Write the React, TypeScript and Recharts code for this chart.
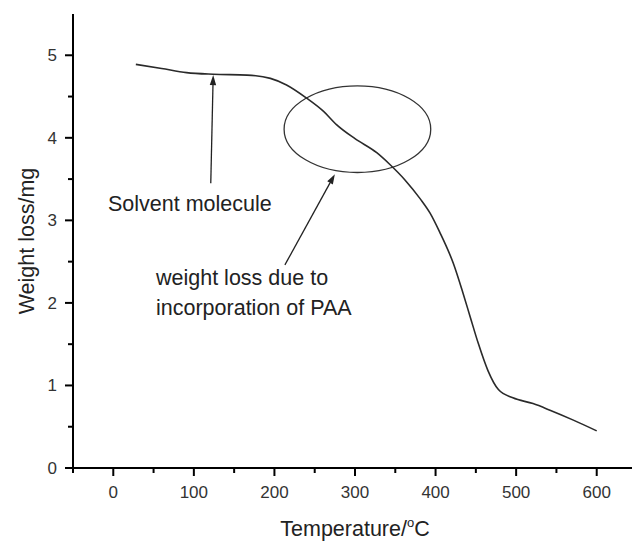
import React from "react"
import { LineChart, Line, XAxis, YAxis, Label, ReferenceArea, ReferenceLine } from "recharts"

// TGA curve
const temperature = [28, 60, 91, 124, 166, 195, 215, 240, 261, 277, 300, 327, 343, 362, 381, 393, 405, 422, 434, 443, 453, 465, 478, 496, 521, 542, 571, 600]
const weightLoss = [4.89, 4.84, 4.79, 4.77, 4.76, 4.72, 4.64, 4.48, 4.32, 4.16, 3.99, 3.82, 3.68, 3.49, 3.26, 3.09, 2.86, 2.48, 2.12, 1.83, 1.51, 1.18, 0.95, 0.85, 0.78, 0.7, 0.58, 0.45]

// ticks (majors get labels, the rest are minor marks)
const xTicks = [-50, 0, 50, 100, 150, 200, 250, 300, 350, 400, 450, 500, 550, 600, 650]
const yTicks = [0, 0.5, 1, 1.5, 2, 2.5, 3, 3.5, 4, 4.5, 5]

const FONT = "'Liberation Sans', Arial, sans-serif"
const INK = "#222"

const data = temperature.map((t, i) => ({ t, w: weightLoss[i] }))

function XTick({ x, y, payload }: any) {
  const major = payload.value % 100 === 0
  return (
    <g>
      <line x1={x} x2={x} y1={y} y2={y + (major ? 8 : 5)} stroke="#000" strokeWidth={2} />
      {major && (
        <text x={x} y={y + 30} textAnchor="middle" fontSize={17} fontFamily={FONT} fill="#333">
          {payload.value}
        </text>
      )}
    </g>
  )
}

function YTick({ x, y, payload }: any) {
  const major = Number.isInteger(payload.value)
  return (
    <g>
      <line x1={x - (major ? 8 : 5)} x2={x} y1={y} y2={y} stroke="#000" strokeWidth={2} />
      {major && (
        <text x={x - 16} y={y + 6} textAnchor="end" fontSize={17} fontFamily={FONT} fill="#333">
          {payload.value}
        </text>
      )}
    </g>
  )
}

const xTitle = ({ viewBox }: any) => (
  <text x={viewBox.x + viewBox.width / 2} y={536} textAnchor="middle" fontSize={21.5} fontFamily={FONT} fill={INK}>
    Temperature/
    <tspan fontSize={13} dy={-9}>o</tspan>
    <tspan dy={9}>C</tspan>
  </text>
)

const yTitle = ({ viewBox }: any) => (
  <text
    transform={`translate(34, ${viewBox.y + viewBox.height / 2}) rotate(-90)`}
    textAnchor="middle"
    fontSize={21.5}
    fontFamily={FONT}
    fill={INK}
  >
    Weight loss/mg
  </text>
)

// line with a filled arrow head at the end point
const arrow = (p: any) => {
  const { x1, y1, x2, y2 } = p
  const a = Math.atan2(y2 - y1, x2 - x1)
  const len = 10
  const half = 3.2
  const bx = x2 - len * Math.cos(a)
  const by = y2 - len * Math.sin(a)
  const pts = [
    [x2, y2],
    [bx + half * Math.sin(a), by - half * Math.cos(a)],
    [bx - half * Math.sin(a), by + half * Math.cos(a)],
  ]
  return (
    <g>
      <line x1={x1} y1={y1} x2={bx} y2={by} stroke={INK} strokeWidth={1.3} />
      <polygon points={pts.map((q) => q.join(",")).join(" ")} fill={INK} />
    </g>
  )
}

const ellipse = (p: any) => (
  <ellipse
    cx={p.x + p.width / 2}
    cy={p.y + p.height / 2}
    rx={p.width / 2}
    ry={p.height / 2}
    fill="none"
    stroke="#333"
    strokeWidth={1.3}
  />
)

export default function App() {
  return (
    <div style={{ position: "absolute", left: 0, top: 0, width: 632, height: 541, overflow: "hidden", background: "#fff" }}>
      <LineChart width={640} height={541} data={data} margin={{ top: 14, right: 3, left: 0, bottom: 0 }}>
        <XAxis
          type="number"
          dataKey="t"
          domain={[-50, 650]}
          ticks={xTicks}
          interval={0}
          height={73}
          tickSize={0}
          tickMargin={0}
          tickLine={false}
          tick={<XTick />}
          axisLine={{ stroke: "#000", strokeWidth: 2 }}
        >
          <Label content={xTitle} />
        </XAxis>
        <YAxis
          type="number"
          domain={[0, 5.5]}
          ticks={yTicks}
          interval={0}
          width={73}
          tickSize={0}
          tickMargin={0}
          tickLine={false}
          tick={<YTick />}
          axisLine={{ stroke: "#000", strokeWidth: 2 }}
        >
          <Label content={yTitle} />
        </YAxis>
        <ReferenceArea x1={212} x2={394} y1={3.58} y2={4.63} shape={ellipse} />
        <ReferenceLine segment={[{ x: 121, y: 3.45 }, { x: 124, y: 4.76 }]} shape={arrow} />
        <ReferenceLine segment={[{ x: 213, y: 2.46 }, { x: 275, y: 3.56 }]} shape={arrow} />
        <Line
          type="monotone"
          dataKey="w"
          stroke="#2a2a2a"
          strokeWidth={1.6}
          dot={false}
          isAnimationActive={false}
        />
      </LineChart>
      <svg width={632} height={541} style={{ position: "absolute", left: 0, top: 0, pointerEvents: "none" }}>
        <g fontFamily={FONT} fontSize={21.5} fill={INK}>
          <text x={108} y={211}>Solvent molecule</text>
          <text x={156} y={285}>weight loss due to</text>
          <text x={156} y={315}>incorporation of PAA</text>
        </g>
      </svg>
    </div>
  )
}
